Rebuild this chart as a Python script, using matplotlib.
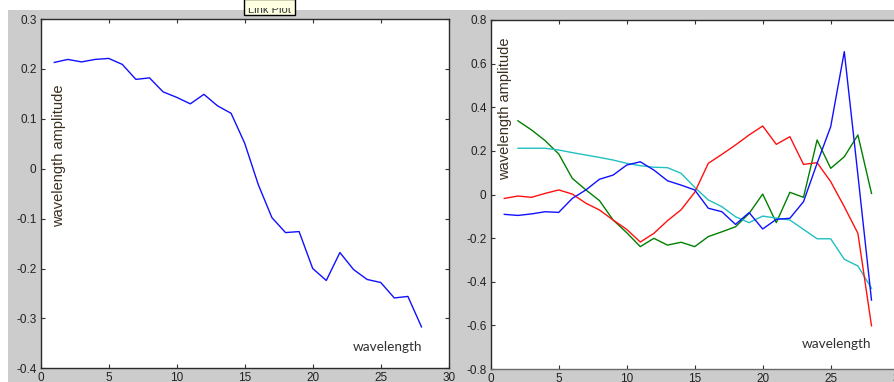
import matplotlib
matplotlib.use("Agg")
import matplotlib.pyplot as plt
from matplotlib.patches import Rectangle

# ---------------- data ----------------
x_left = list(range(1, 29))
left_amp = [0.213, 0.219, 0.214, 0.219, 0.221, 0.209, 0.179, 0.182, 0.154, 0.143,
            0.130, 0.149, 0.126, 0.111, 0.051, -0.032, -0.098, -0.128, -0.126, -0.200,
            -0.224, -0.168, -0.202, -0.222, -0.228, -0.259, -0.256, -0.317]

x_rb = list(range(1, 29))
red_amp = [-0.018, -0.007, -0.013, 0.005, 0.021, 0.002, -0.040, -0.071, -0.117, -0.160,
           -0.218, -0.178, -0.120, -0.070, 0.010, 0.143, 0.184, 0.227, 0.273, 0.314,
           0.230, 0.265, 0.138, 0.146, 0.059, -0.056, -0.178, -0.602]
blue_amp = [-0.091, -0.096, -0.089, -0.079, -0.082, -0.018, 0.021, 0.070, 0.089, 0.135,
            0.150, 0.112, 0.063, 0.043, 0.021, -0.063, -0.079, -0.137, -0.083, -0.158,
            -0.114, -0.109, -0.033, 0.143, 0.311, 0.655, 0.090, -0.484]

x_cg = list(range(2, 29))
cyan_amp = [0.212, 0.212, 0.212, 0.204, 0.192, 0.181, 0.170, 0.158, 0.143, 0.132,
            0.125, 0.123, 0.097, 0.033, -0.025, -0.056, -0.102, -0.129, -0.099, -0.108,
            -0.117, -0.160, -0.203, -0.203, -0.297, -0.328, -0.430]
green_amp = [0.338, 0.296, 0.247, 0.186, 0.074, 0.021, -0.028, -0.117, -0.175, -0.239,
             -0.201, -0.232, -0.219, -0.239, -0.193, -0.171, -0.148, -0.087, 0.002, -0.129,
             0.010, -0.013, 0.250, 0.120, 0.173, 0.273, 0.005]

left_yticks = [0.3, 0.2, 0.1, 0, -0.1, -0.2, -0.3, -0.4]
right_yticks = [0.8, 0.6, 0.4, 0.2, 0, -0.2, -0.4, -0.6, -0.8]
xticks = [0, 5, 10, 15, 20, 25, 30]

ylab = "wavelength amplitude"
xlab = "wavelength"

# ---------------- figure ----------------
W, H = 894, 382
fig = plt.figure(figsize=(W / 100, H / 100), dpi=100, facecolor="white")
bg = Rectangle((8 / W, 0), 1 - 8 / W, (H - 10) / H,
               transform=fig.transFigure, facecolor="#CCCCCC",
               edgecolor="none", zorder=-10)
fig.patches.append(bg)

tick_font = dict(family=["Liberation Sans", "DejaVu Sans"], size=8.5)
spine_col = "#2b2b2b"


def fmt(v):
    if v == 0:
        return "0"
    return ("%g" % v)


def style(ax, ymin, ymax, yticks):
    ax.set_xlim(0, 30)
    ax.set_ylim(ymin, ymax)
    ax.set_xticks(xticks)
    ax.set_xticklabels([fmt(t) for t in xticks], fontdict=tick_font, color="#222222")
    ax.set_yticks(yticks)
    ax.set_yticklabels([fmt(t) for t in yticks], fontdict=tick_font, color="#222222")
    ax.tick_params(direction="in", length=3.2, width=0.8, color="#333333",
                   top=True, right=True, pad=3.0)
    for s in ax.spines.values():
        s.set_color(spine_col)
        s.set_linewidth(1.0)
    ax.set_facecolor("white")


# left axes
ax1 = fig.add_axes([40.7 / W, (H - 368.3) / H, 408 / W, 349.3 / H], zorder=1)
ax1.plot(x_left, left_amp, color="#1010FF", lw=1.0)
style(ax1, -0.4, 0.3, left_yticks)
ax1.text(0.044, 0.608, ylab, rotation=90, transform=ax1.transAxes,
         ha="center", va="center", fontsize=10.5, color="#3a3020",
         family=["Liberation Sans", "DejaVu Sans"])
ax1.text((387.5 - 40.7) / 408, (368.3 - 347) / 349.3, xlab, transform=ax1.transAxes,
         ha="center", va="center", fontsize=9.8, color="#303030",
         family=["Lato", "DejaVu Sans"])

# right axes
ax2 = fig.add_axes([490.7 / W, (H - 369) / H, 408 / W, 349 / H], zorder=1)
ax2.plot(x_cg, green_amp, color="#008000", lw=1.0)
ax2.plot(x_cg, cyan_amp, color="#20C0C0", lw=1.0)
ax2.plot(x_rb, red_amp, color="#FF1010", lw=1.0)
ax2.plot(x_rb, blue_amp, color="#1010FF", lw=1.0)
style(ax2, -0.8, 0.8, right_yticks)
ax2.spines["bottom"].set_color("#6a6a6a")
ax2.text(0.034, 0.745, ylab, rotation=90, transform=ax2.transAxes,
         ha="center", va="center", fontsize=10.5, color="#3a3020",
         family=["Liberation Sans", "DejaVu Sans"])
ax2.text((837 - 490.7) / 408, (369 - 344) / 349, xlab, transform=ax2.transAxes,
         ha="center", va="center", fontsize=9.8, color="#303030",
         family=["Lato", "DejaVu Sans"])

# "Link Plot" tooltip box at top
box = Rectangle((244 / W, (H - 15) / H), 51 / W, 16 / H, transform=fig.transFigure,
                facecolor="#FFFFE1", edgecolor="#000000", lw=1.0, zorder=5)
fig.patches.append(box)
t = fig.text(269.5 / W, (H - 13) / H, "Link Plot", ha="center", va="baseline",
             fontsize=8, color="#333333", family=["Liberation Sans", "DejaVu Sans"],
             zorder=6)
clip = Rectangle((244 / W, (H - 15) / H), 51 / W, 7 / H, transform=fig.transFigure)
t.set_clip_path(clip)

fig.savefig("out.png", dpi=100, facecolor=fig.get_facecolor())
